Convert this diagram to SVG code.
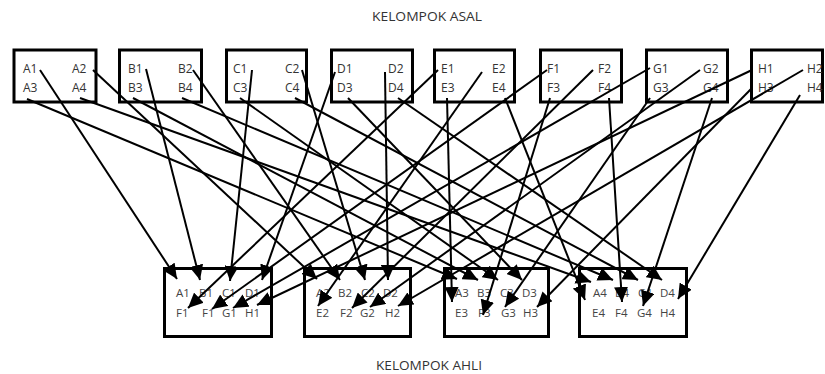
<svg xmlns="http://www.w3.org/2000/svg" width="825" height="374" viewBox="0 0 825 374">
  <style>
    .box { fill: #ffffff; stroke: #000000; stroke-width: 3; }
    .lbl { font-family: "Open Sans", "Liberation Sans", sans-serif; font-size: 12px; fill: #333333; }
    .lbs { font-family: "Open Sans", "Liberation Sans", sans-serif; font-size: 11.5px; fill: #444444; }
    .ttl { font-family: "Open Sans", "Liberation Sans", sans-serif; font-size: 12px; fill: #333333; }
    .con line { stroke: #000000; stroke-width: 2; fill: none; marker-end: url(#ah); }
  </style>
  <defs>
    <marker id="ah" markerWidth="16" markerHeight="14" refX="15" refY="7" orient="auto" markerUnits="userSpaceOnUse">
      <path d="M0,0 L15,7 L0,14 z" fill="#000000"/>
    </marker>
  </defs>
  <rect width="825" height="374" fill="#ffffff"/>

  <text class="ttl" x="372" y="21" textLength="110" lengthAdjust="spacingAndGlyphs">KELOMPOK ASAL</text>
  <text class="ttl" x="376" y="370" textLength="106" lengthAdjust="spacingAndGlyphs">KELOMPOK AHLI</text>

  <!-- home groups -->
  <g id="asal-a">
    <rect class="box" x="14" y="50" width="82" height="52"/>
    <text class="lbl" x="23" y="73">A1</text><text class="lbl" x="72" y="73">A2</text>
    <text class="lbl" x="23" y="92">A3</text><text class="lbl" x="72" y="92">A4</text>
  </g>
  <g id="asal-b">
    <rect class="box" x="119.5" y="50" width="82" height="52"/>
    <text class="lbl" x="128" y="73">B1</text><text class="lbl" x="178" y="73">B2</text>
    <text class="lbl" x="128" y="92">B3</text><text class="lbl" x="178" y="92">B4</text>
  </g>
  <g id="asal-c">
    <rect class="box" x="226.5" y="50" width="80" height="52"/>
    <text class="lbl" x="233" y="73">C1</text><text class="lbl" x="285" y="73">C2</text>
    <text class="lbl" x="233" y="92">C3</text><text class="lbl" x="285" y="92">C4</text>
  </g>
  <g id="asal-d">
    <rect class="box" x="331.5" y="50" width="81" height="52"/>
    <text class="lbl" x="337" y="73">D1</text><text class="lbl" x="388" y="73">D2</text>
    <text class="lbl" x="337" y="92">D3</text><text class="lbl" x="388" y="92">D4</text>
  </g>
  <g id="asal-e">
    <rect class="box" x="434.5" y="50" width="80" height="52"/>
    <text class="lbl" x="441" y="73">E1</text><text class="lbl" x="492" y="73">E2</text>
    <text class="lbl" x="441" y="92">E3</text><text class="lbl" x="492" y="92">E4</text>
  </g>
  <g id="asal-f">
    <rect class="box" x="540.5" y="50" width="81" height="52"/>
    <text class="lbl" x="547" y="73">F1</text><text class="lbl" x="598" y="73">F2</text>
    <text class="lbl" x="547" y="92">F3</text><text class="lbl" x="598" y="92">F4</text>
  </g>
  <g id="asal-g">
    <rect class="box" x="646.5" y="50" width="81" height="52"/>
    <text class="lbl" x="653" y="73">G1</text><text class="lbl" x="703" y="73">G2</text>
    <text class="lbl" x="653" y="92">G3</text><text class="lbl" x="703" y="92">G4</text>
  </g>
  <g id="asal-h">
    <rect class="box" x="751.5" y="50" width="71" height="52"/>
    <text class="lbl" x="758" y="73">H1</text><text class="lbl" x="807" y="73">H2</text>
    <text class="lbl" x="758" y="92">H3</text><text class="lbl" x="807" y="92">H4</text>
  </g>

  <!-- expert groups -->
  <g id="ahli-1">
    <rect class="box" x="164.5" y="268.5" width="107" height="68"/>
    <text class="lbs" x="176" y="297">A1</text><text class="lbs" x="199" y="297">B1</text>
    <text class="lbs" x="222" y="297">C1</text><text class="lbs" x="245" y="297">D1</text>
    <text class="lbs" x="176" y="317">F1</text><text class="lbs" x="202" y="317">F1</text>
    <text class="lbs" x="222" y="317">G1</text><text class="lbs" x="245" y="317">H1</text>
  </g>
  <g id="ahli-2">
    <rect class="box" x="304.5" y="268.5" width="106" height="68"/>
    <text class="lbs" x="316" y="297">A2</text><text class="lbs" x="338" y="297">B2</text>
    <text class="lbs" x="361" y="297">C2</text><text class="lbs" x="383" y="297">D2</text>
    <text class="lbs" x="316" y="317">E2</text><text class="lbs" x="340" y="317">F2</text>
    <text class="lbs" x="360" y="317">G2</text><text class="lbs" x="385" y="317">H2</text>
  </g>
  <g id="ahli-3">
    <rect class="box" x="444.5" y="268.5" width="104" height="68"/>
    <text class="lbs" x="455" y="297">A3</text><text class="lbs" x="477" y="297">B3</text>
    <text class="lbs" x="500" y="297">C3</text><text class="lbs" x="522" y="297">D3</text>
    <text class="lbs" x="455" y="317">E3</text><text class="lbs" x="478" y="317">F3</text>
    <text class="lbs" x="501" y="317">G3</text><text class="lbs" x="523" y="317">H3</text>
  </g>
  <g id="ahli-4">
    <rect class="box" x="579.5" y="268.5" width="107" height="68"/>
    <text class="lbs" x="593" y="297">A4</text><text class="lbs" x="615" y="297">B4</text>
    <text class="lbs" x="638" y="297">C4</text><text class="lbs" x="660" y="297">D4</text>
    <text class="lbs" x="592" y="317">E4</text><text class="lbs" x="615" y="317">F4</text>
    <text class="lbs" x="637" y="317">G4</text><text class="lbs" x="660" y="317">H4</text>
  </g>

  <!-- connectors: each member goes to the expert group of its number -->
  <g id="connectors" class="con">
    <line x1="40" y1="70" x2="177" y2="279"/>
    <line x1="146" y1="69" x2="200" y2="280"/>
    <line x1="252" y1="70" x2="230" y2="281"/>
    <line x1="335" y1="72" x2="262" y2="280"/>
    <line x1="438" y1="70" x2="188" y2="308"/>
    <line x1="547" y1="70" x2="212" y2="309"/>
    <line x1="650" y1="68" x2="233" y2="308"/>
    <line x1="752" y1="70" x2="257" y2="305"/>

    <line x1="93" y1="70" x2="317" y2="279"/>
    <line x1="193" y1="70" x2="340" y2="280"/>
    <line x1="302" y1="70" x2="365" y2="280"/>
    <line x1="385" y1="72" x2="388" y2="280"/>
    <line x1="482" y1="72" x2="318" y2="306"/>
    <line x1="593" y1="70" x2="352" y2="308"/>
    <line x1="700" y1="70" x2="370" y2="307"/>
    <line x1="803" y1="70" x2="398" y2="306"/>

    <line x1="27" y1="99" x2="457" y2="279"/>
    <line x1="133" y1="98" x2="478" y2="280"/>
    <line x1="240" y1="98" x2="498" y2="280"/>
    <line x1="348" y1="98" x2="522" y2="280"/>
    <line x1="447" y1="98" x2="452" y2="302"/>
    <line x1="550" y1="98" x2="483" y2="315"/>
    <line x1="650" y1="98" x2="505" y2="307"/>
    <line x1="752" y1="88" x2="537" y2="307"/>

    <line x1="80" y1="98" x2="591" y2="282"/>
    <line x1="182" y1="98" x2="613" y2="280"/>
    <line x1="295" y1="98" x2="638" y2="280"/>
    <line x1="398" y1="98" x2="662" y2="280"/>
    <line x1="505" y1="98" x2="585" y2="300"/>
    <line x1="609" y1="98" x2="622" y2="302"/>
    <line x1="712" y1="98" x2="643" y2="306"/>
    <line x1="800" y1="95" x2="678" y2="299"/>
  </g>
</svg>
